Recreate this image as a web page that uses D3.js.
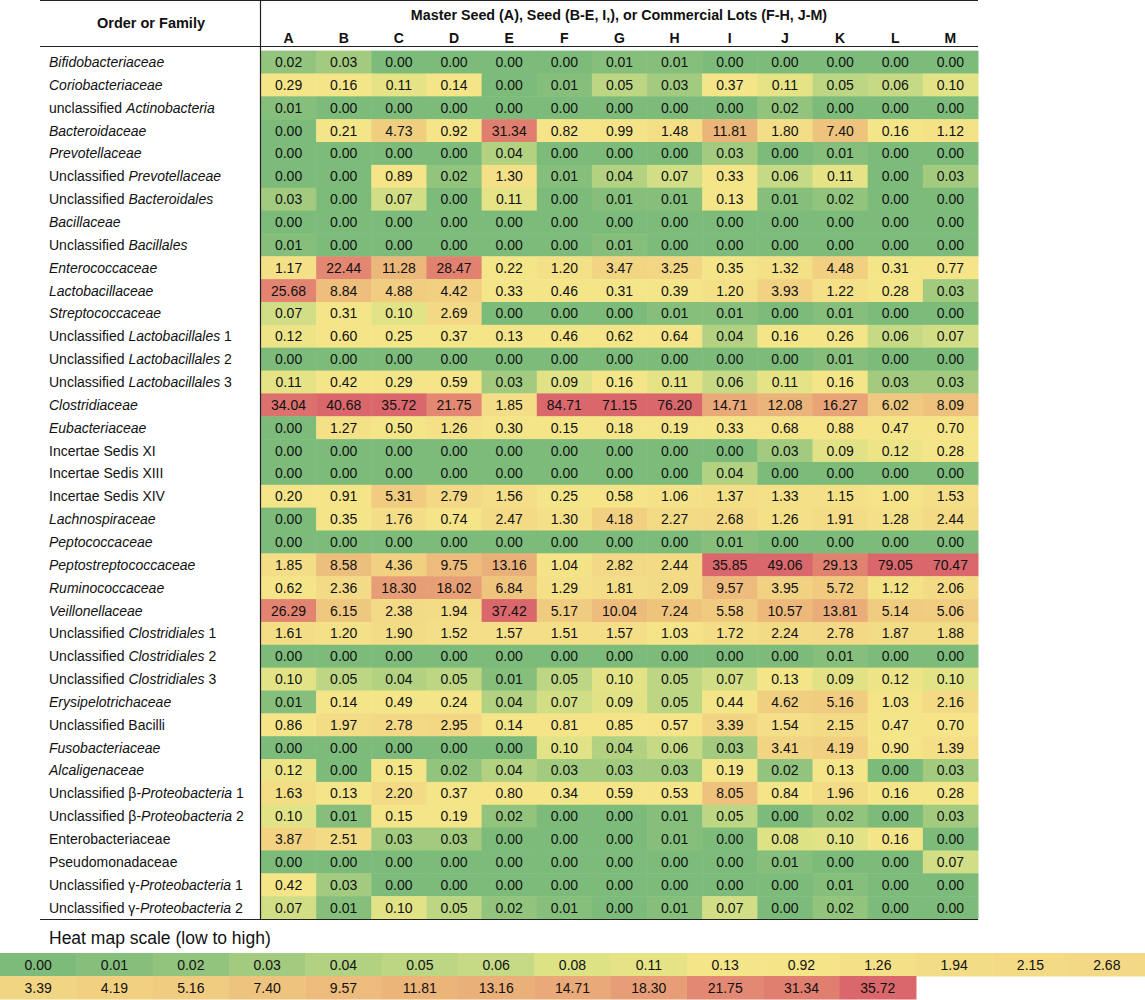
<!DOCTYPE html>
<html>
<head>
<meta charset="utf-8">
<script src="https://cdn.jsdelivr.net/npm/d3@7"></script>
<style>
  body { margin: 0; background: #fff; }
  svg text { font-family: "Liberation Sans", Arial, sans-serif; fill: #111; }
</style>
</head>
<body>
<svg id="chart"></svg>
<script>
// column letters (samples)
var lots = ["A", "B", "C", "D", "E", "F", "G", "H", "I", "J", "K", "L", "M"];

// row labels, *...* marks the italic part
var families = [
  "*Bifidobacteriaceae*",
  "*Coriobacteriaceae*",
  "unclassified *Actinobacteria*",
  "*Bacteroidaceae*",
  "*Prevotellaceae*",
  "Unclassified *Prevotellaceae*",
  "Unclassified *Bacteroidales*",
  "*Bacillaceae*",
  "Unclassified *Bacillales*",
  "*Enterococcaceae*",
  "*Lactobacillaceae*",
  "*Streptococcaceae*",
  "Unclassified *Lactobacillales* 1",
  "Unclassified *Lactobacillales* 2",
  "Unclassified *Lactobacillales* 3",
  "*Clostridiaceae*",
  "*Eubacteriaceae*",
  "Incertae Sedis XI",
  "Incertae Sedis XIII",
  "Incertae Sedis XIV",
  "*Lachnospiraceae*",
  "*Peptococcaceae*",
  "*Peptostreptococcaceae*",
  "*Ruminococcaceae*",
  "*Veillonellaceae*",
  "Unclassified *Clostridiales* 1",
  "Unclassified *Clostridiales* 2",
  "Unclassified *Clostridiales* 3",
  "*Erysipelotrichaceae*",
  "Unclassified Bacilli",
  "*Fusobacteriaceae*",
  "*Alcaligenaceae*",
  "Unclassified \u03b2-*Proteobacteria* 1",
  "Unclassified \u03b2-*Proteobacteria* 2",
  "Enterobacteriaceae",
  "Pseudomonadaceae",
  "Unclassified \u03b3-*Proteobacteria* 1",
  "Unclassified \u03b3-*Proteobacteria* 2"
];

// percent abundance, one row per family, columns A..M
var abundance = [
  [0.02, 0.03, 0.00, 0.00, 0.00, 0.00, 0.01, 0.01, 0.00, 0.00, 0.00, 0.00, 0.00],
  [0.29, 0.16, 0.11, 0.14, 0.00, 0.01, 0.05, 0.03, 0.37, 0.11, 0.05, 0.06, 0.10],
  [0.01, 0.00, 0.00, 0.00, 0.00, 0.00, 0.00, 0.00, 0.00, 0.02, 0.00, 0.00, 0.00],
  [0.00, 0.21, 4.73, 0.92, 31.34, 0.82, 0.99, 1.48, 11.81, 1.80, 7.40, 0.16, 1.12],
  [0.00, 0.00, 0.00, 0.00, 0.04, 0.00, 0.00, 0.00, 0.03, 0.00, 0.01, 0.00, 0.00],
  [0.00, 0.00, 0.89, 0.02, 1.30, 0.01, 0.04, 0.07, 0.33, 0.06, 0.11, 0.00, 0.03],
  [0.03, 0.00, 0.07, 0.00, 0.11, 0.00, 0.01, 0.01, 0.13, 0.01, 0.02, 0.00, 0.00],
  [0.00, 0.00, 0.00, 0.00, 0.00, 0.00, 0.00, 0.00, 0.00, 0.00, 0.00, 0.00, 0.00],
  [0.01, 0.00, 0.00, 0.00, 0.00, 0.00, 0.01, 0.00, 0.00, 0.00, 0.00, 0.00, 0.00],
  [1.17, 22.44, 11.28, 28.47, 0.22, 1.20, 3.47, 3.25, 0.35, 1.32, 4.48, 0.31, 0.77],
  [25.68, 8.84, 4.88, 4.42, 0.33, 0.46, 0.31, 0.39, 1.20, 3.93, 1.22, 0.28, 0.03],
  [0.07, 0.31, 0.10, 2.69, 0.00, 0.00, 0.00, 0.01, 0.01, 0.00, 0.01, 0.00, 0.00],
  [0.12, 0.60, 0.25, 0.37, 0.13, 0.46, 0.62, 0.64, 0.04, 0.16, 0.26, 0.06, 0.07],
  [0.00, 0.00, 0.00, 0.00, 0.00, 0.00, 0.00, 0.00, 0.00, 0.00, 0.01, 0.00, 0.00],
  [0.11, 0.42, 0.29, 0.59, 0.03, 0.09, 0.16, 0.11, 0.06, 0.11, 0.16, 0.03, 0.03],
  [34.04, 40.68, 35.72, 21.75, 1.85, 84.71, 71.15, 76.20, 14.71, 12.08, 16.27, 6.02, 8.09],
  [0.00, 1.27, 0.50, 1.26, 0.30, 0.15, 0.18, 0.19, 0.33, 0.68, 0.88, 0.47, 0.70],
  [0.00, 0.00, 0.00, 0.00, 0.00, 0.00, 0.00, 0.00, 0.00, 0.03, 0.09, 0.12, 0.28],
  [0.00, 0.00, 0.00, 0.00, 0.00, 0.00, 0.00, 0.00, 0.04, 0.00, 0.00, 0.00, 0.00],
  [0.20, 0.91, 5.31, 2.79, 1.56, 0.25, 0.58, 1.06, 1.37, 1.33, 1.15, 1.00, 1.53],
  [0.00, 0.35, 1.76, 0.74, 2.47, 1.30, 4.18, 2.27, 2.68, 1.26, 1.91, 1.28, 2.44],
  [0.00, 0.00, 0.00, 0.00, 0.00, 0.00, 0.00, 0.00, 0.01, 0.00, 0.00, 0.00, 0.00],
  [1.85, 8.58, 4.36, 9.75, 13.16, 1.04, 2.82, 2.44, 35.85, 49.06, 29.13, 79.05, 70.47],
  [0.62, 2.36, 18.30, 18.02, 6.84, 1.29, 1.81, 2.09, 9.57, 3.95, 5.72, 1.12, 2.06],
  [26.29, 6.15, 2.38, 1.94, 37.42, 5.17, 10.04, 7.24, 5.58, 10.57, 13.81, 5.14, 5.06],
  [1.61, 1.20, 1.90, 1.52, 1.57, 1.51, 1.57, 1.03, 1.72, 2.24, 2.78, 1.87, 1.88],
  [0.00, 0.00, 0.00, 0.00, 0.00, 0.00, 0.00, 0.00, 0.00, 0.00, 0.01, 0.00, 0.00],
  [0.10, 0.05, 0.04, 0.05, 0.01, 0.05, 0.10, 0.05, 0.07, 0.13, 0.09, 0.12, 0.10],
  [0.01, 0.14, 0.49, 0.24, 0.04, 0.07, 0.09, 0.05, 0.44, 4.62, 5.16, 1.03, 2.16],
  [0.86, 1.97, 2.78, 2.95, 0.14, 0.81, 0.85, 0.57, 3.39, 1.54, 2.15, 0.47, 0.70],
  [0.00, 0.00, 0.00, 0.00, 0.00, 0.10, 0.04, 0.06, 0.03, 3.41, 4.19, 0.90, 1.39],
  [0.12, 0.00, 0.15, 0.02, 0.04, 0.03, 0.03, 0.03, 0.19, 0.02, 0.13, 0.00, 0.03],
  [1.63, 0.13, 2.20, 0.37, 0.80, 0.34, 0.59, 0.53, 8.05, 0.84, 1.96, 0.16, 0.28],
  [0.10, 0.01, 0.15, 0.19, 0.02, 0.00, 0.00, 0.01, 0.05, 0.00, 0.02, 0.00, 0.03],
  [3.87, 2.51, 0.03, 0.03, 0.00, 0.00, 0.00, 0.01, 0.00, 0.08, 0.10, 0.16, 0.00],
  [0.00, 0.00, 0.00, 0.00, 0.00, 0.00, 0.00, 0.00, 0.00, 0.01, 0.00, 0.00, 0.07],
  [0.42, 0.03, 0.00, 0.00, 0.00, 0.00, 0.00, 0.00, 0.00, 0.00, 0.01, 0.00, 0.00],
  [0.07, 0.01, 0.10, 0.05, 0.02, 0.01, 0.00, 0.01, 0.07, 0.00, 0.02, 0.00, 0.00]
];

// heat map scale stops as printed under the table
var scaleStops = [0.00, 0.01, 0.02, 0.03, 0.04, 0.05, 0.06, 0.08, 0.11, 0.13, 0.92, 1.26, 1.94, 2.15, 2.68,
                  3.39, 4.19, 5.16, 7.40, 9.57, 11.81, 13.16, 14.71, 18.30, 21.75, 31.34, 35.72];
var stopColors = ["#7dbb7b", "#86bf7c", "#92c47d", "#a2cb80", "#b2d282", "#bcd683", "#c6da85", "#dde285", "#e5e386",
                  "#f5e589", "#f5e488", "#f4e087", "#f3dc86", "#f3db86", "#f3d985",
                  "#f2d583", "#f1d181", "#f0cc80", "#eec37d", "#edbc7c", "#ebb57a", "#eab079", "#e9a978",
                  "#e79e76", "#e38872", "#e07f70", "#d9676b"];

var W = 1145, H = 1000;
var svg = d3.select("#chart").attr("width", W).attr("height", H);

var tableLeft = 40, splitX = 260, tableRight = 978;
var headTop = 0, headBottom = 46, bodyBottom = 919;

var color = d3.scaleLinear().domain(scaleStops).range(stopColors).clamp(true);

var x = d3.scaleBand().domain(lots).range([splitX + 1, tableRight]);
var y = d3.scaleBand().domain(d3.range(families.length)).range([50.6, bodyBottom]);

// cells
var cells = [];
abundance.forEach(function(row, i) {
    row.forEach(function(v, j) {
        cells.push({row: i, lot: lots[j], value: v});
    });
});

var body = svg.append("g");
body.selectAll("rect")
    .data(cells)
    .enter()
    .append("rect")
    .attr("x", function(d) { return x(d.lot); })
    .attr("y", function(d) { return y(d.row); })
    .attr("width", x.bandwidth() + 0.5)
    .attr("height", y.bandwidth() + 0.5)
    .attr("fill", function(d) { return color(d.value); });

body.selectAll("text")
    .data(cells)
    .enter()
    .append("text")
    .attr("x", function(d) { return x(d.lot) + x.bandwidth() / 2; })
    .attr("y", function(d) { return y(d.row) + y.bandwidth() / 2; })
    .attr("dy", "0.36em")
    .attr("text-anchor", "middle")
    .style("font-size", "14px")
    .text(function(d) { return d.value.toFixed(2); });

// row labels with italic parts
var labels = svg.append("g").selectAll("text")
    .data(families)
    .enter()
    .append("text")
    .attr("x", 49)
    .attr("y", function(d, i) { return y(i) + y.bandwidth() / 2; })
    .attr("dy", "0.36em")
    .style("font-size", "14px");

labels.each(function(d) {
    var t = d3.select(this);
    d.split("*").forEach(function(part, k) {
        if (part === "") return;
        t.append("tspan")
            .style("font-style", k % 2 === 1 ? "italic" : "normal")
            .text(part);
    });
});

// header
svg.append("text")
    .attr("x", (tableLeft + splitX) / 2 + 1)
    .attr("y", 23)
    .attr("dy", "0.36em")
    .attr("text-anchor", "middle")
    .style("font-size", "14.5px")
    .style("font-weight", "bold")
    .text("Order or Family");

svg.append("text")
    .attr("x", (splitX + tableRight) / 2)
    .attr("y", 15)
    .attr("dy", "0.36em")
    .attr("text-anchor", "middle")
    .style("font-size", "14.3px")
    .style("font-weight", "bold")
    .text("Master Seed (A), Seed (B-E, I,), or Commercial Lots (F-H, J-M)");

svg.append("g").selectAll("text")
    .data(lots)
    .enter()
    .append("text")
    .attr("x", function(d) { return x(d) + x.bandwidth() / 2; })
    .attr("y", 38)
    .attr("dy", "0.36em")
    .attr("text-anchor", "middle")
    .style("font-size", "14px")
    .style("font-weight", "bold")
    .text(function(d) { return d; });

// rules
var rules = [
    [tableLeft, headTop + 0.5, tableRight, headTop + 0.5],
    [tableLeft, headBottom + 0.5, tableRight, headBottom + 0.5],
    [tableLeft, bodyBottom + 0.5, tableRight, bodyBottom + 0.5],
    [splitX + 0.5, headTop, splitX + 0.5, bodyBottom]
];
svg.append("g").selectAll("line")
    .data(rules)
    .enter()
    .append("line")
    .attr("x1", function(d) { return d[0]; })
    .attr("y1", function(d) { return d[1]; })
    .attr("x2", function(d) { return d[2]; })
    .attr("y2", function(d) { return d[3]; })
    .style("stroke", "#222")
    .style("stroke-width", 1.2);

// legend
svg.append("text")
    .attr("x", 49)
    .attr("y", 938)
    .attr("dy", "0.36em")
    .style("font-size", "17.5px")
    .text("Heat map scale (low to high)");

var perRow = 15;
var lx = d3.scaleBand().domain(d3.range(perRow)).range([0, W]);
var ly = d3.scaleBand().domain([0, 1]).range([953, 999]);

var key = svg.append("g").selectAll("g")
    .data(scaleStops)
    .enter()
    .append("g")
    .attr("transform", function(d, i) {
        return "translate(" + lx(i % perRow) + "," + ly(Math.floor(i / perRow)) + ")";
    });

key.append("rect")
    .attr("width", lx.bandwidth() + 0.5)
    .attr("height", ly.bandwidth() + 0.5)
    .attr("fill", function(d, i) { return stopColors[i]; });

key.append("text")
    .attr("x", lx.bandwidth() / 2)
    .attr("y", ly.bandwidth() / 2)
    .attr("dy", "0.36em")
    .attr("text-anchor", "middle")
    .style("font-size", "14px")
    .text(function(d) { return d.toFixed(2); });
</script>
</body>
</html>
